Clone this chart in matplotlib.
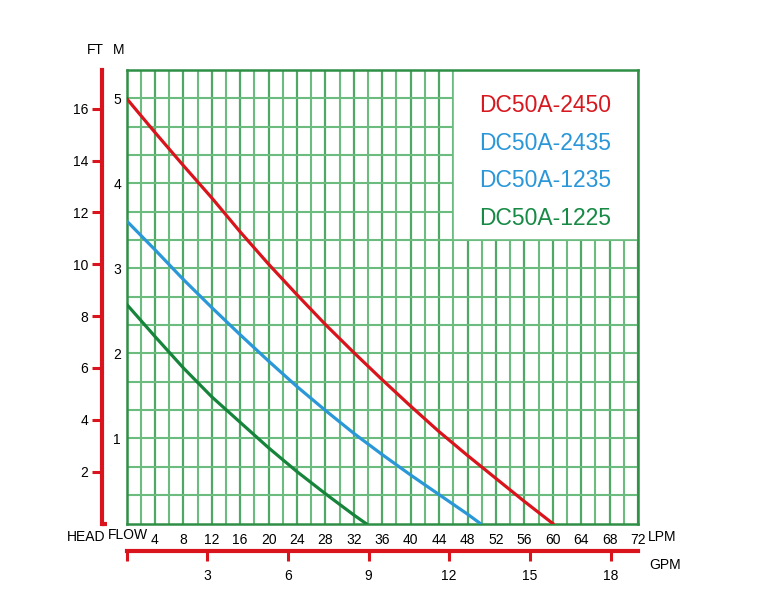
import numpy as np
import matplotlib.pyplot as plt
from matplotlib.ticker import FixedLocator
from matplotlib.patches import Rectangle

plt.rcParams['font.family'] = ['Liberation Sans', 'DejaVu Sans']

# flow in LPM, head in metres
flow_2450 = [0, 4, 8, 12, 16, 20, 24, 28, 32, 36, 40, 44, 48, 52, 56, 60]
head_2450 = [5.0, 4.60, 4.21, 3.83, 3.43, 3.05, 2.69, 2.34, 2.01, 1.69, 1.38, 1.08, 0.80, 0.53, 0.26, 0.0]

flow_2435 = [0, 4, 8, 12, 16, 20, 24, 28, 32, 36, 40, 44, 48, 49.8]
head_2435 = [3.56, 3.22, 2.87, 2.54, 2.22, 1.91, 1.61, 1.33, 1.06, 0.81, 0.57, 0.34, 0.11, 0.0]

flow_1225 = [0, 4, 8, 12, 16, 20, 24, 28, 32, 33.7]
head_1225 = [2.58, 2.20, 1.83, 1.49, 1.19, 0.89, 0.61, 0.35, 0.10, 0.0]

models = ['DC50A-2450', 'DC50A-2435', 'DC50A-1235', 'DC50A-1225']
model_colors = ['#d7191f', '#2a97d8', '#2a97d8', '#178a45']

lpm_ticks = list(range(4, 73, 4))
m_ticks = [1, 2, 3, 4, 5]
ft_ticks = [2, 4, 6, 8, 10, 12, 14, 16]
gpm_ticks = [0, 3, 6, 9, 12, 15, 18]

RED = '#d9141c'
GRID = '#6cbc80'
GRID_DARK = '#4fa866'
BORDER = '#2f8f45'

W, H = 767, 595
fig = plt.figure(figsize=(W / 100, H / 100), dpi=100)
ax = fig.add_axes([126.5 / W, (H - 523.5) / H, 511.5 / W, 453.5 / H])

ax.set_xlim(0, 72)
ax.set_ylim(0, 16 / 3)

# grid
ax.xaxis.set_minor_locator(FixedLocator(np.arange(2, 72, 4)))
ax.yaxis.set_minor_locator(FixedLocator(np.arange(1, 16) / 3))
ax.set_xticks(lpm_ticks)
ax.set_yticks(m_ticks)
ax.grid(which='minor', color=GRID, lw=1.5)
ax.grid(which='major', axis='x', color=GRID_DARK, lw=1.6)
ax.grid(which='major', axis='y', color=GRID, lw=1.5)
ax.set_axisbelow(True)
ax.tick_params(which='both', length=0)
ax.tick_params(axis='x', pad=7, labelsize=10)
ax.tick_params(axis='y', pad=4, labelsize=10)
for s in ax.spines.values():
    s.set_color(BORDER)
    s.set_linewidth(1.8)

# legend box covering the grid in the top right
ax.add_patch(Rectangle((46, 10 / 3), 26, 2, facecolor='white', edgecolor=GRID, lw=1.2, zorder=1.5))

ax.plot(flow_2450, head_2450, color=RED, lw=2.3, zorder=3)
ax.plot(flow_2435, head_2435, color='#2a97d8', lw=2.3, zorder=3)
ax.plot(flow_1225, head_1225, color='#16843a', lw=2.3, zorder=3)

for i, (name, c) in enumerate(zip(models, model_colors)):
    ax.text(0.690, 0.922 - i * 0.0832, name, transform=ax.transAxes, color=c,
            fontsize=16.5, va='center', ha='left', zorder=4)

# FT axis
ft = ax.secondary_yaxis(-0.048, functions=(lambda m: m / 0.3048, lambda f: f * 0.3048))
ft.set_yticks(ft_ticks)
ft.spines['left'].set_color(RED)
ft.spines['left'].set_linewidth(3)
ft.tick_params(axis='y', color=RED, width=2.2, length=7, pad=3, labelsize=10)

# bottom hook of the FT axis
ax.plot([-0.048, -0.038], [0, 0], transform=ax.transAxes, color=RED, lw=3,
        clip_on=False, solid_capstyle='butt')

# GPM axis
gpm = ax.secondary_xaxis(-0.061, functions=(lambda l: l / 3.785, lambda g: g * 3.785))
gpm.set_xticks(gpm_ticks)
gpm.set_xticklabels([''] + [str(g) for g in gpm_ticks[1:]])
gpm.spines['bottom'].set_color(RED)
gpm.spines['bottom'].set_linewidth(3)
gpm.tick_params(axis='x', color=RED, width=2.2, length=7, pad=6, labelsize=10)

def ftext(x, y, s, **kw):
    fig.text(x / W, 1 - y / H, s, fontsize=10, va='center', **kw)

ftext(95, 50, 'FT', ha='center')
ftext(119, 50, 'M', ha='center')
ftext(86, 537, 'HEAD', ha='center')
ftext(128, 535, 'FLOW', ha='center')
ftext(662, 537, 'LPM', ha='center')
ftext(665, 565, 'GPM', ha='center')

fig.savefig('out.png', dpi=100, facecolor='white')
